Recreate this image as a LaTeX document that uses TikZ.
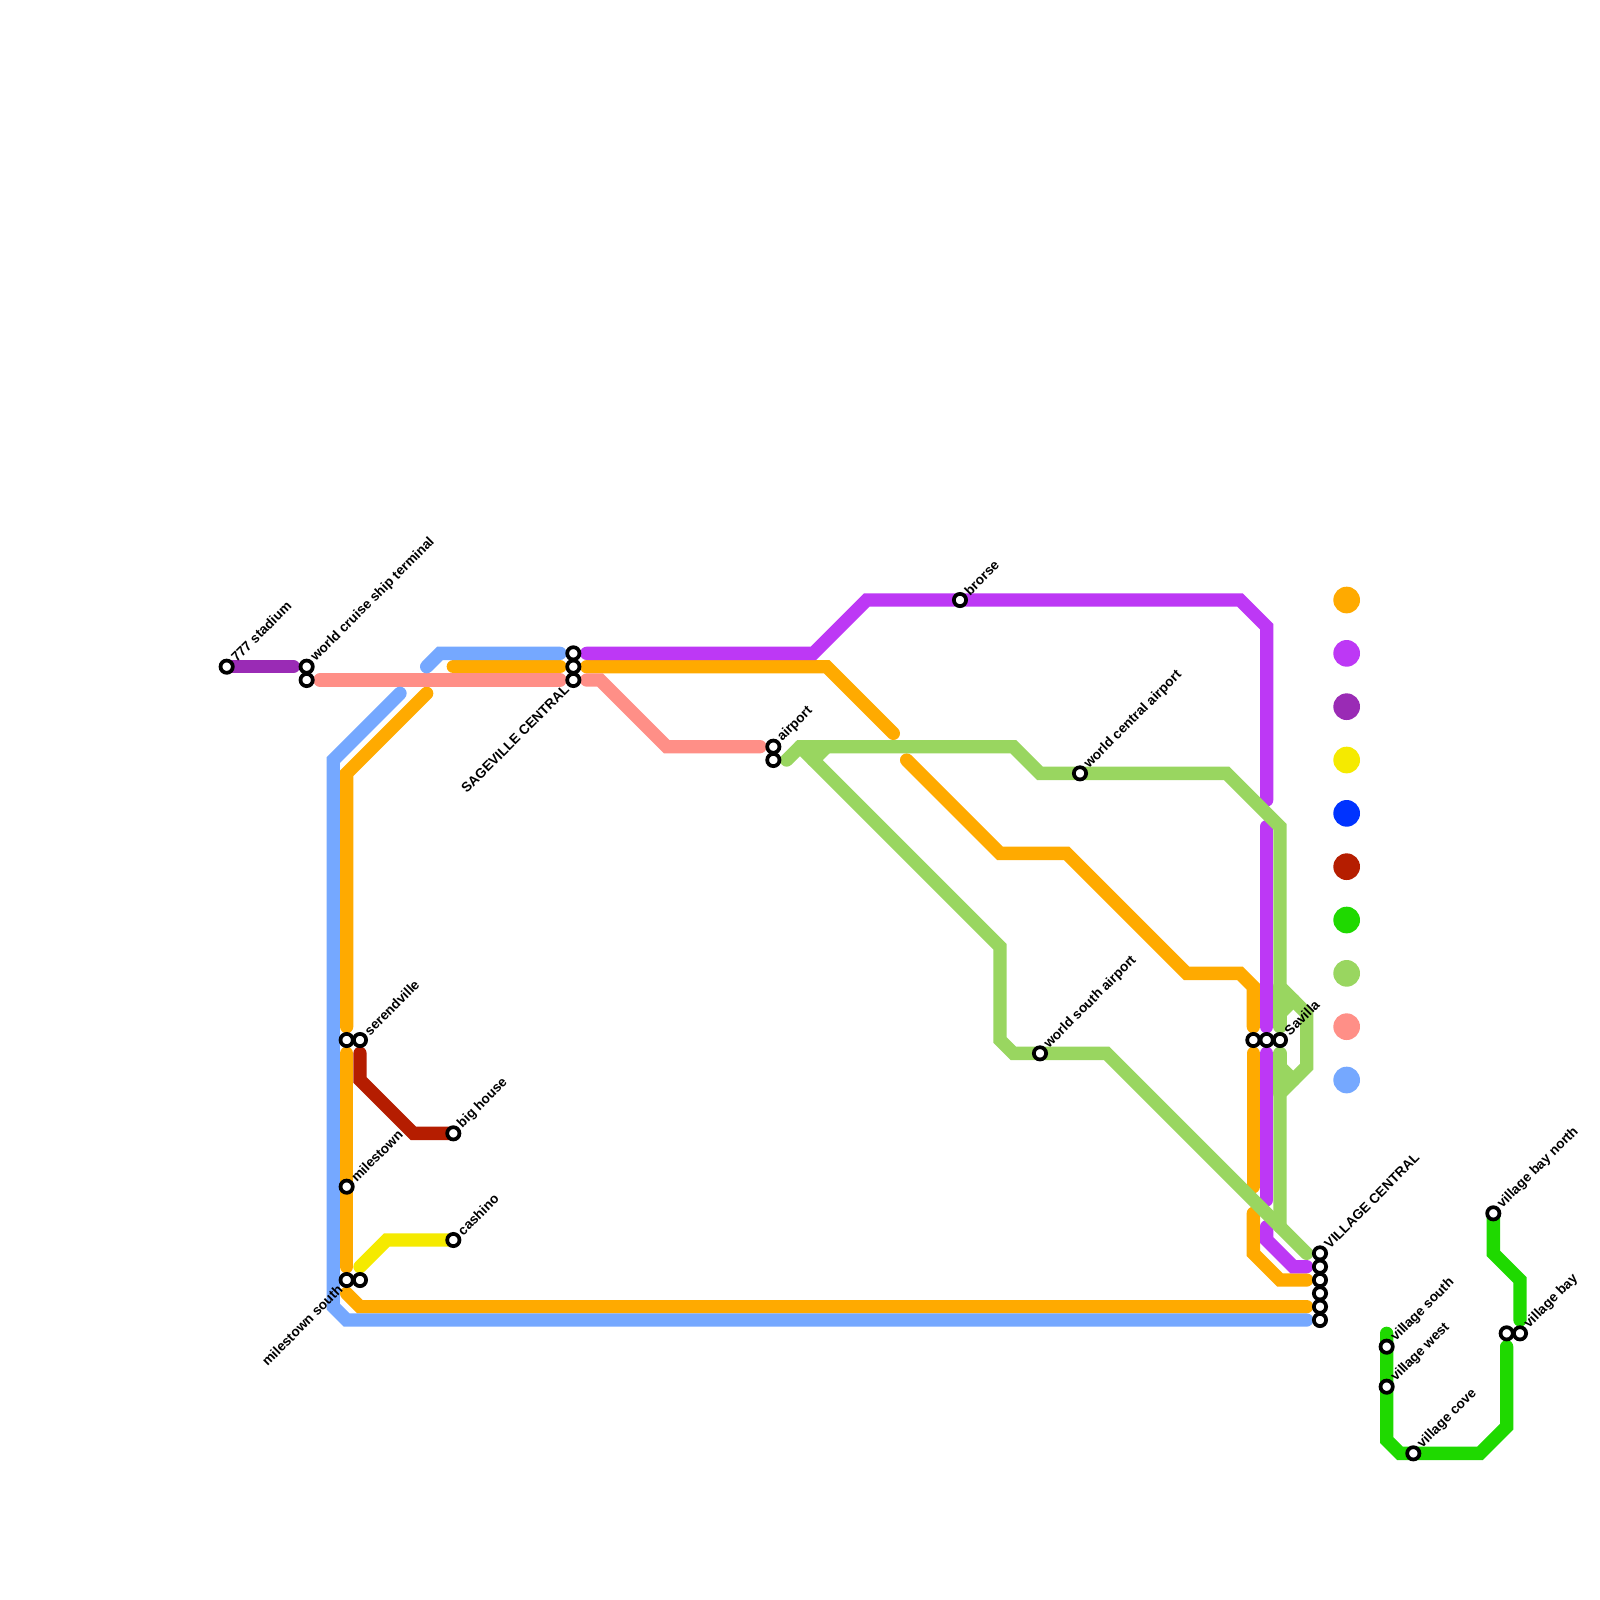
\documentclass[tikz,border=0pt]{standalone}
\usepackage{fontspec}
\setmainfont{Liberation Sans}
\definecolor{corange}{HTML}{FFAA00}
\definecolor{cpurple}{HTML}{BD38F5}
\definecolor{cdpurple}{HTML}{9A2BB5}
\definecolor{cyellow}{HTML}{F5EA00}
\definecolor{cblue}{HTML}{0033FF}
\definecolor{cred}{HTML}{B51D00}
\definecolor{cgreen}{HTML}{1FD900}
\definecolor{clgreen}{HTML}{99D660}
\definecolor{csalmon}{HTML}{FF8F87}
\definecolor{clblue}{HTML}{75A8FF}
\tikzset{
  x=1mm,y=-1mm,
  metro/.style={line width=1mm,line cap=round,line join=miter},
  stn/.style={circle,draw=black,fill=white,line width=0.28mm,minimum size=0.92mm,inner sep=0pt,outer sep=0pt},
  key/.style={circle,minimum size=2mm,inner sep=0pt,outer sep=0pt},
  lab/.style={font=\bfseries\fontsize{2.9}{3.5}\selectfont,inner sep=0pt,rotate=45,anchor=west,text=black},
  labl/.style={font=\bfseries\fontsize{2.9}{3.5}\selectfont,inner sep=0pt,rotate=45,anchor=east,text=black}
}
\begin{document}
\begin{tikzpicture}
\useasboundingbox (0,0) rectangle (120,120);
\fill[white] (0,0) rectangle (120,120);
% orange
\draw[metro,corange] (34,50)--(42,50);
\draw[metro,corange] (44,50)--(62,50)--(67,55);
\draw[metro,corange] (68,57)--(75,64)--(80,64)--(89,73)--(93,73)--(94,74)--(94,77);
\draw[metro,corange] (94,79)--(94,89);
\draw[metro,corange] (94,91)--(94,94)--(96,96)--(98,96);
\draw[metro,corange] (32,52)--(26,58)--(26,77);
\draw[metro,corange] (26,79)--(26,95);
\draw[metro,corange] (26,97)--(27,98)--(98,98);
% purple
\draw[metro,cpurple] (44,49)--(61,49)--(65,45)--(93,45)--(95,47)--(95,60);
\draw[metro,cpurple] (95,62)--(95,77);
\draw[metro,cpurple] (95,79)--(95,90);
\draw[metro,cpurple] (95,92)--(95,93)--(97,95)--(98,95);
% dark purple
\draw[metro,cdpurple] (17,50)--(22,50);
% yellow
\draw[metro,cyellow] (27,95)--(29,93)--(34,93);
% dark red
\draw[metro,cred] (27,79)--(27,81)--(31,85)--(34,85);
% green
\draw[metro,cgreen] (104,100)--(104,108)--(105,109)--(111,109)--(113,107)--(113,101);
\draw[metro,cgreen] (112,91)--(112,94)--(114,96)--(114,99);
% light green
\draw[metro,clgreen] (59,57)--(60,56)--(76,56)--(78,58)--(92,58)--(96,62)--(96,74)--(98,76)--(98,80)--(96,82)--(96,92);
\draw[metro,clgreen] (96,77)--(96,74);
\draw[metro,clgreen] (96,76)--(97,75);
\draw[metro,clgreen] (96,79)--(96,82);
\draw[metro,clgreen] (96,80)--(97,81);
\draw[metro,clgreen] (60,56)--(75,71)--(75,78)--(76,79)--(83,79)--(98,94);
\draw[metro,clgreen] (61,57)--(62,56);
% salmon
\draw[metro,csalmon] (24,51)--(42,51);
\draw[metro,csalmon] (44,51)--(45,51)--(50,56)--(57,56);
% light blue
\draw[metro,clblue] (32,50)--(33,49)--(42,49);
\draw[metro,clblue] (30,52)--(25,57)--(25,98)--(26,99)--(98,99);
% legend
\node[key,fill=corange] (k1) at (101,45) {};
\node[key,fill=cpurple] (k2) at (101,49) {};
\node[key,fill=cdpurple] (k3) at (101,53) {};
\node[key,fill=cyellow] (k4) at (101,57) {};
\node[key,fill=cblue] (k5) at (101,61) {};
\node[key,fill=cred] (k6) at (101,65) {};
\node[key,fill=cgreen] (k7) at (101,69) {};
\node[key,fill=clgreen] (k8) at (101,73) {};
\node[key,fill=csalmon] (k9) at (101,77) {};
\node[key,fill=clblue] (k10) at (101,81) {};
% stations
\foreach \n/\x/\y in {a/17/50,b1/23/50,b2/23/51,c1/43/49,c2/43/50,c3/43/51,d1/58/56,d2/58/57,e/72/45,f/81/58,g/78/79,h1/94/78,h2/95/78,h3/96/78,i1/99/94,i2/99/95,i3/99/96,i4/99/97,i5/99/98,i6/99/99,j1/26/78,j2/27/78,l/34/85,m/26/89,n/34/93,o1/26/96,o2/27/96,p/104/101,q/104/104,r/106/109,s/112/91,t1/113/100,t2/114/100}
  \node[stn] (\n) at (\x,\y) {};
% labels
\node[lab] (la) at ([shift={(0.45,-0.5)}]a.center) {777 stadium};
\node[lab] (lb) at ([shift={(0.45,-0.5)}]b1.center) {world cruise ship terminal};
\node[labl] (lc) at ([shift={(-0.45,0.5)}]c3.center) {SAGEVILLE CENTRAL};
\node[lab] (ld) at ([shift={(0.45,-0.5)}]d1.center) {airport};
\node[lab] (le) at ([shift={(0.45,-0.5)}]e.center) {brorse};
\node[lab] (lf) at ([shift={(0.45,-0.5)}]f.center) {world central airport};
\node[lab] (lg) at ([shift={(0.45,-0.5)}]g.center) {world south airport};
\node[lab] (lh) at ([shift={(0.45,-0.5)}]h3.center) {Savilla};
\node[lab] (li) at ([shift={(0.45,-0.5)}]i1.center) {VILLAGE CENTRAL};
\node[lab] (lj) at ([shift={(0.45,-0.5)}]j2.center) {serendville};
\node[lab] (ll) at ([shift={(0.45,-0.5)}]l.center) {big house};
\node[lab] (lm) at ([shift={(0.45,-0.5)}]m.center) {milestown};
\node[lab] (ln) at ([shift={(0.45,-0.5)}]n.center) {cashino};
\node[labl] (lo) at ([shift={(-0.45,0.5)}]o1.center) {milestown south};
\node[lab] (lp) at ([shift={(0.45,-0.5)}]p.center) {village south};
\node[lab] (lq) at ([shift={(0.45,-0.5)}]q.center) {village west};
\node[lab] (lr) at ([shift={(0.45,-0.5)}]r.center) {village cove};
\node[lab] (ls) at ([shift={(0.45,-0.5)}]s.center) {village bay north};
\node[lab] (lt) at ([shift={(0.45,-0.5)}]t2.center) {village bay};
\end{tikzpicture}
\end{document}
